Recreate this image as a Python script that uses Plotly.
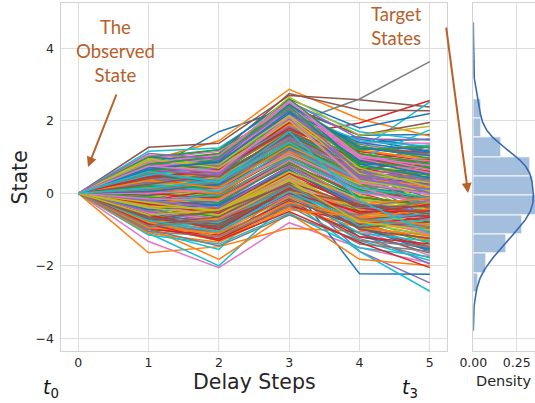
import numpy as np
import plotly.graph_objects as go

# ---------------- data ----------------
steps = [0, 1, 2, 3, 4, 5]
observed_state = 0.0

# state values at delay steps 1..5 for every simulated path
paths = [
    [0.60, 1.70, 2.35, 1.60, 1.62], [0.90, 1.45, 2.87, 2.05, 1.58], [0.10, 0.25, 1.30, 0.60, 0.98],
    [0.20, 0.55, 1.60, 1.94, 2.56], [-0.50, -0.70, 0.20, -1.60, -2.47], [1.27, 1.38, 2.70, 2.58, 2.38],
    [-1.33, -2.05, -0.81, -1.50, -1.92], [0.40, 0.80, 1.90, 2.60, 3.63], [-0.30, -0.45, 0.70, 0.10, -0.08],
    [0.50, 0.95, 1.85, 1.19, 2.52],

    [-0.20, -0.10, 0.32, -2.22, -2.23], [-1.64, -1.47, -0.96, -1.05, -1.22], [0.35, 0.10, 1.10, 0.20, 0.45],
    [-0.10, 0.40, 1.50, 0.90, 0.74], [0.25, 0.05, 1.20, 0.50, -0.30], [0.80, 1.10, 2.75, 2.30, 2.28],
    [0.05, -0.35, 0.90, -0.30, -0.62], [-0.40, -0.85, 0.40, -0.20, -0.90], [0.45, 0.60, 1.70, 0.80, 0.88],
    [-1.10, -2.00, -0.20, -1.60, -2.70],

    [0.15, 0.20, 1.35, 1.40, 1.50], [-0.95, -1.82, -0.55, -1.82, -2.00], [-0.55, -0.60, 0.50, -0.60, -1.15],
    [0.30, 0.70, 1.90, 1.10, 0.32], [-0.15, 0.15, 1.00, 0.30, 0.40], [0.70, 0.95, 2.40, 1.60, 1.95],
    [0.40, 0.30, 1.55, 0.70, 0.60], [-0.70, -1.30, -0.10, -0.90, -1.46], [0.00, -0.20, 0.85, 0.40, 0.06],
    [1.16, 1.25, 2.50, 1.70, 1.46],

    [-0.35, -0.55, 0.60, -0.10, -0.40], [0.55, 0.80, 2.10, 1.20, 0.93], [-0.80, -1.10, 0.10, -0.40, -0.72],
    [0.10, -0.05, 1.25, 0.00, -0.50], [0.65, 0.90, 2.05, 1.30, 1.05], [-0.25, -0.30, 0.95, 0.60, 0.26],
    [0.20, 0.45, 1.45, 0.20, -0.18], [0.30, 0.10, 1.60, 0.90, 1.21], [-0.60, -0.90, 0.30, -0.70, -1.34],
    [-1.05, -1.55, 0.30, -0.80, -1.18],

    [0.45, 0.35, 1.40, 0.30, 0.14], [-0.15, -0.40, 0.75, -0.50, -0.85], [0.70, 0.55, 1.80, 0.90, 0.66],
    [-0.45, -0.25, 0.90, 0.10, -0.24], [0.05, 0.25, 1.05, 0.80, 1.30], [-0.65, -0.75, 0.45, -0.30, -0.64],
    [0.30, 0.00, 1.20, 0.00, 0.20], [-0.10, 0.20, 1.10, 0.60, -0.15], [0.25, 0.40, 1.65, 1.00, 0.76],
    [-0.30, -0.60, 0.40, -0.90, -1.56],

    [0.80, 0.65, 1.95, 1.50, 1.16], [-0.50, -0.95, 0.20, -0.60, -0.98], [0.15, 0.30, 1.25, 0.25, 0.02],
    [0.55, 0.50, 2.00, 0.70, 0.38], [-0.25, -0.45, 0.55, -0.20, -0.34], [0.00, 0.15, 1.15, 0.40, 0.54],
    [-0.70, -0.80, 0.35, -1.00, -1.72], [0.35, 0.60, 1.75, 1.20, 1.33], [-0.20, -0.15, 0.80, -0.05, -0.44],
    [0.60, 0.85, 2.20, 1.00, 0.84],

    [-0.05, 0.05, 1.05, 0.15, -0.02], [0.25, 0.35, 1.50, 0.55, 0.30], [-0.40, -0.65, 0.45, -0.50, -0.95],
    [0.40, 0.75, 1.85, 0.95, 0.70], [-0.85, -1.05, -0.05, -1.10, -1.95], [0.15, 0.00, 1.10, 0.35, 0.10],
    [0.50, 0.70, 1.90, 1.40, 1.38], [-0.30, -0.40, 0.70, -0.30, -0.56], [0.60, 0.45, 1.70, 0.65, -0.27],
    [-0.10, -0.30, 0.65, -0.40, -0.78],

    [0.30, 0.55, 1.60, 1.55, 1.25], [-0.60, -0.50, 0.55, -0.75, -1.09], [0.05, -0.10, 1.00, 0.10, -0.14],
    [-0.20, 0.10, 1.35, 0.50, 0.22], [0.45, 0.20, 1.30, 0.45, 0.62], [-0.50, -0.70, 0.25, -0.90, -1.26],
    [0.10, 0.25, 1.40, 0.30, -0.04], [0.70, 0.95, 2.15, 1.35, 1.08], [-0.15, -0.35, 0.60, -0.20, -0.46],
    [0.20, 0.40, 1.55, 0.85, 0.96],

    [-0.55, -0.85, 0.15, -1.20, -1.53], [0.65, 0.40, 1.75, 0.75, 0.42], [-0.25, 0.00, 1.15, 0.20, -0.16],
    [0.35, 0.20, 1.45, 0.40, 0.12], [-0.40, -0.25, 0.85, -0.35, -0.74], [0.55, 0.80, 1.95, 1.25, 1.12],
    [-0.10, -0.50, 0.50, -0.60, -0.90], [0.00, 0.20, 1.25, 0.35, -0.68], [0.40, 0.65, 1.85, 1.05, 0.86],
    [-0.75, -1.20, -0.15, -1.30, -1.85],

    [0.10, 0.45, 1.50, 0.70, 0.58], [-0.35, -0.60, 0.40, -0.60, -1.03], [0.50, 0.30, 1.40, 0.60, 0.34],
    [-0.60, -0.40, 0.65, -0.45, -0.80], [0.20, 0.05, 1.10, 0.05, -0.20], [-0.05, 0.30, 1.30, 0.90, 0.81],
    [0.60, 0.90, 2.00, 1.25, 1.02], [-0.45, -0.70, 0.25, -0.65, -1.06], [-0.10, 0.10, 1.05, 0.25, -0.75],
    [0.35, 0.15, 1.30, 0.45, 0.44],

    [-0.15, -0.35, 0.75, -0.15, -0.26], [0.40, 0.60, 1.90, 1.15, 0.95], [-0.70, -0.95, 0.05, -0.80, -1.38],
    [0.00, -0.15, 0.95, -0.10, -0.36], [0.55, 0.70, 1.85, 0.95, 0.79], [-0.35, -0.20, 0.80, 0.00, -0.10],
    [0.25, 0.15, 1.35, 0.45, 0.36], [-0.85, -1.20, -0.25, -1.25, -1.78], [0.15, 0.45, 1.55, 0.70, 0.64],
    [-0.20, -0.05, 0.95, 0.05, -0.28],

    [0.50, 0.30, 1.65, 0.80, 0.72], [-0.25, -0.15, 0.85, -0.25, -0.58], [0.30, 0.55, 1.60, 0.75, -0.42],
    [-0.80, -1.00, 0.00, -0.95, -1.50], [0.10, 0.35, 1.20, 0.35, 0.18], [0.65, 0.45, 1.70, 0.85, 0.91],
    [-0.40, -0.55, 0.45, -0.55, -0.70], [0.20, -0.05, 1.00, 0.20, 0.04], [-0.50, -0.75, 0.30, -0.80, -1.15],
    [0.75, 1.05, 2.25, 1.45, 1.30],

    [-0.45, -0.30, 0.65, -0.35, -0.48], [0.15, 0.00, 1.15, 0.30, 0.16], [0.60, 0.85, 2.05, 1.10, 0.74],
    [-0.30, -0.55, 0.55, -0.40, -0.66], [0.30, 0.50, 1.55, 0.60, 0.56], [-0.90, -1.30, -0.30, -1.10, -1.65],
    [0.00, 0.10, 1.10, 0.15, -0.35], [0.45, 0.25, 1.45, 0.55, 0.45], [-0.25, -0.50, 0.50, -0.55, -0.83],
    [0.25, 0.05, 1.25, 0.15, -0.12],

    [0.05, 0.25, 1.25, 0.45, 0.24], [-0.70, -1.05, 0.10, -0.85, -1.30], [0.20, 0.15, 1.35, 0.50, 0.40],
    [0.75, 0.60, 1.95, 1.15, 0.88], [-0.20, -0.40, 0.75, -0.25, -0.52], [0.40, 0.65, 1.75, 1.00, 0.68],
    [-0.55, -0.70, 0.35, -0.65, -1.12], [0.10, 0.30, 1.20, 0.50, 0.32], [-0.35, -0.45, 0.60, -0.15, -0.38],
    [0.50, 0.75, 1.80, 0.95, 1.75],

    [-0.60, -0.95, 0.05, -0.95, -1.59], [0.35, 0.15, 1.30, 0.40, 0.20], [-0.10, -0.25, 0.85, -0.10, -0.32],
    [0.45, 0.65, 1.80, 0.90, 0.60], [-0.50, -0.80, 0.20, -0.70, -1.00], [0.25, 0.50, 1.60, 0.65, 0.93],
    [-0.15, -0.20, 0.90, 0.00, -0.22], [0.55, 0.35, 1.50, 0.55, -0.45], [-0.40, -0.60, 0.40, -0.45, -0.88],
    [0.15, 0.35, 1.40, 0.35, 0.10],

    [0.95, 1.20, 2.60, 1.80, 2.20], [-0.90, -1.30, -0.40, -0.95, -1.17], [0.85, 0.70, 2.45, 1.30, 0.97],
    [-1.00, -1.15, -0.20, -1.20, -1.40], [0.75, 1.05, 2.55, 1.50, 1.48], [-0.75, -0.90, 0.10, -0.70, -0.61],
    [1.05, 0.90, 2.30, 0.95, 0.57], [-0.65, -1.00, -0.10, -0.40, -0.09], [0.70, 0.95, 2.65, 1.60, 1.85],
    [-1.15, -1.40, -0.55, -1.50, -1.75],

    [0.85, 1.00, 2.50, 0.80, 0.43], [-0.80, -0.70, 0.05, -0.30, -0.13], [0.90, 1.10, 2.35, 1.20, 1.27],
    [-0.95, -1.25, -0.35, -0.85, -0.67], [0.65, 0.50, 2.20, 0.60, 0.37], [-0.70, -0.50, 0.25, -1.00, -1.24],
    [0.95, 1.15, 2.40, 1.00, 0.90], [-0.85, -1.10, -0.30, -0.60, -0.19], [0.80, 0.60, 2.10, 0.55, 0.29],
    [-0.95, -0.80, 0.00, -1.10, -1.32],

    [1.00, 0.85, 2.20, 1.40, 1.14], [-1.10, -1.35, -0.45, -0.65, -0.25], [0.60, 0.95, 2.60, 1.10, 0.83],
    [-0.60, -1.00, 0.15, -0.55, -0.31], [0.80, 0.75, 2.30, 0.45, 0.23], [-0.85, -0.65, 0.30, -0.35, -0.37],
    [0.70, 1.00, 2.50, 1.00, 0.77], [-1.00, -1.45, -0.60, -1.30, -1.48], [0.90, 0.80, 2.15, 0.70, 0.17],
    [-0.70, -0.85, 0.20, -0.90, -0.73],

    [0.65, 0.90, 2.45, 1.25, 1.04], [-0.80, -1.20, -0.25, -0.70, -0.43], [1.00, 1.20, 2.30, 0.85, 0.71],
    [-0.90, -0.75, 0.00, -0.50, -0.49], [0.75, 0.55, 2.05, 0.40, 0.11], [-0.65, -0.95, -0.15, -0.95, -0.79],
    [0.85, 1.05, 2.55, 1.05, 0.65], [-1.05, -1.20, -0.35, -1.40, -1.60], [0.95, 0.70, 2.00, 0.35, 0.05],
    [-0.75, -1.05, 0.05, -0.80, -0.53],

    [0.70, 0.85, 2.25, 0.90, 0.52], [-0.95, -1.10, -0.10, -0.75, -0.86], [0.80, 1.00, 2.40, 0.75, 0.49],
    [-0.85, -1.30, -0.50, -1.35, -2.05], [1.10, 0.95, 2.35, 0.60, 0.01], [-0.70, -0.85, 0.10, -0.30, -0.57],
    [0.75, 0.60, 2.10, 0.30, -0.03], [-0.90, -0.75, 0.20, -0.70, -0.92], [-0.60, -0.45, 0.35, -0.80, -1.01],
    [0.60, 0.30, 1.70, -0.20, -1.10],
]

x_tick_labels = ["0", "1", "2", "3", "4", "5"]
y_tick_values = [-4, -2, 0, 2, 4]
y_tick_labels = ["\u22124", "\u22122", "0", "2", "4"]
density_tick_values = [0.0, 0.25]
density_tick_labels = ["0.00", "0.25"]

final_states = [row[-1] for row in paths]

# ---------------- styling ----------------
palette = ["#1f77b4", "#ff7f0e", "#2ca02c", "#d62728", "#9467bd",
           "#8c564b", "#e377c2", "#7f7f7f", "#bcbd22", "#17becf"]
GRID = "#dedede"
FRAME = "#d2d2d2"
TXT = "#262626"
ANN = "#B8602A"
FONT = "DejaVu Sans"

fig = go.Figure()

for i, row in enumerate(paths):
    fig.add_trace(go.Scatter(
        x=steps, y=[observed_state] + row, mode="lines",
        line=dict(color=palette[i % 10], width=1.5),
        hoverinfo="skip", showlegend=False, xaxis="x", yaxis="y"))

# histogram of target states
fig.add_trace(go.Histogram(
    y=final_states, orientation="h", histnorm="probability density",
    ybins=dict(start=-2.73, end=3.67, size=0.533),
    marker=dict(color="rgb(164,191,222)", line=dict(color="rgba(255,255,255,0.85)", width=1)),
    showlegend=False, xaxis="x2", yaxis="y2"))

# kernel density estimate of the target states (Scott bandwidth)
arr = np.array(final_states)
bw = arr.std(ddof=1) * len(arr) ** (-1 / 5)
grid = np.linspace(arr.min() - 3 * bw, arr.max() + 3 * bw, 400)
dens = np.exp(-0.5 * ((grid[:, None] - arr[None, :]) / bw) ** 2).sum(axis=1) / (len(arr) * bw * np.sqrt(2 * np.pi))
fig.add_trace(go.Scatter(x=dens, y=grid, mode="lines",
                         line=dict(color="rgb(58,106,172)", width=1.6),
                         hoverinfo="skip", showlegend=False, xaxis="x2", yaxis="y2"))

W, H = 535, 403
def px(x):
    return x / W
def py(y):
    return 1 - y / H

y_range = [-4.34, 5.24]
ydom = [py(350.7), py(3.3)]

common = dict(showgrid=True, gridcolor=GRID, gridwidth=1, zeroline=False,
              showline=True, linecolor=FRAME, linewidth=1.3, ticks="",
              tickfont=dict(family=FONT, size=12.5, color=TXT), automargin=False)

fig.update_layout(
    width=W, height=H, autosize=False,
    margin=dict(l=0, r=0, t=0, b=0),
    plot_bgcolor="white", paper_bgcolor="white",
    bargap=0,
    xaxis=dict(domain=[px(60.7), px(447.4)], range=[-0.25, 5.25], tickvals=steps,
               ticktext=x_tick_labels, mirror=True, anchor="y", ticklabelstandoff=0, **common),
    yaxis=dict(domain=ydom, range=y_range, tickvals=y_tick_values, ticktext=y_tick_labels,
               mirror=True, anchor="x", ticklabelstandoff=3, **common),
    xaxis2=dict(domain=[px(473.3), 1.0], range=[0, 0.3554], tickvals=density_tick_values,
                ticktext=density_tick_labels, mirror=True, anchor="y2", ticklabelstandoff=0, **common),
    yaxis2=dict(domain=ydom, range=y_range, tickvals=y_tick_values, showticklabels=False,
                mirror=False, anchor="x2", **common),
)

anns = []
# axis titles
anns.append(dict(x=px(19.5), y=py(178), xref="paper", yref="paper", text="State", textangle=-90,
                 showarrow=False, font=dict(family=FONT, size=20.5, color=TXT),
                 xanchor="center", yanchor="middle"))
anns.append(dict(x=px(254), y=py(382), xref="paper", yref="paper", text="Delay Steps",
                 showarrow=False, font=dict(family=FONT, size=20.5, color=TXT),
                 xanchor="center", yanchor="middle"))
anns.append(dict(x=px(504), y=py(381), xref="paper", yref="paper", text="Density",
                 showarrow=False, font=dict(family=FONT, size=14.5, color=TXT),
                 xanchor="center", yanchor="middle"))
# time markers
anns.append(dict(x=px(51), y=py(388), xref="paper", yref="paper", text="<i>t</i><sub>0</sub>",
                 showarrow=False, font=dict(family=FONT, size=19, color="#111111"),
                 xanchor="center", yanchor="middle"))
anns.append(dict(x=px(410), y=py(388), xref="paper", yref="paper", text="<i>t</i><sub>3</sub>",
                 showarrow=False, font=dict(family=FONT, size=19, color="#111111"),
                 xanchor="center", yanchor="middle"))
# call-outs
anns.append(dict(x=px(115), y=py(51), xref="paper", yref="paper", text="The<br>Observed<br>State",
                 showarrow=False, font=dict(family="Lato", size=18.5, color=ANN),
                 xanchor="center", yanchor="middle", align="center"))
anns.append(dict(x=px(396.7), y=py(26), xref="paper", yref="paper", text="Target<br>States",
                 showarrow=False, font=dict(family="Lato", size=18.5, color=ANN),
                 xanchor="center", yanchor="middle", align="center"))
# arrows
anns.append(dict(x=px(88), y=py(167), xref="paper", yref="paper", text="", showarrow=True,
                 ax=117 - 88, ay=93 - 167, arrowhead=2, arrowsize=1, arrowwidth=2,
                 arrowcolor=ANN, standoff=0, startstandoff=0))
anns.append(dict(x=px(468), y=py(193), xref="paper", yref="paper", text="", showarrow=True,
                 ax=446 - 468, ay=26 - 193, arrowhead=2, arrowsize=1, arrowwidth=2,
                 arrowcolor=ANN, standoff=0, startstandoff=0))
fig.update_layout(annotations=anns)

fig.write_html("out.html")
